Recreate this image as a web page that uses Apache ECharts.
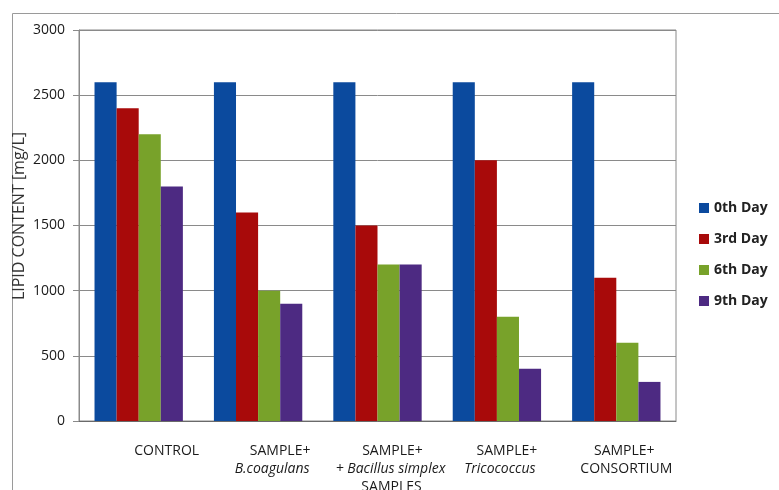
<!DOCTYPE html>
<html>
<head>
<meta charset="utf-8">
<script src="https://cdn.jsdelivr.net/npm/echarts@6/dist/echarts.min.js"></script>
<style>
  html, body { margin: 0; padding: 0; background: #fff; }
  #chart { width: 779px; height: 490px; }
</style>
</head>
<body>
<div id="chart"></div>
<script>
// Lipid content per treatment, measured on days 0, 3, 6 and 9 (mg/L)
const categories = ['CONTROL', 'SAMPLE+ B.coagulans', 'SAMPLE+ + Bacillus simplex SAMPLES', 'SAMPLE+ Tricococcus', 'SAMPLE+ CONSORTIUM'];
const categoryLines = [
  ['CONTROL'],
  ['SAMPLE+', 'B.coagulans'],
  ['SAMPLE+', '+ Bacillus simplex', 'SAMPLES'],
  ['SAMPLE+', 'Tricococcus'],
  ['SAMPLE+', 'CONSORTIUM']
];
const seriesNames = ['0th Day', '3rd Day', '6th Day', '9th Day'];
const day0 = [2600, 2600, 2600, 2600, 2600];
const day3 = [2400, 1600, 1500, 2000, 1100];
const day6 = [2200, 1000, 1200, 800, 600];
const day9 = [1800, 900, 1200, 400, 300];
const yTicks = [0, 500, 1000, 1500, 2000, 2500, 3000];
const yTitle = 'LIPID CONTENT [mg/L]';

// Label line styling: italic species names, and horizontal nudges of each line
const lineItalic = [
  [false],
  [false, true],
  [false, true, false],
  [false, true],
  [false, false]
];
const lineShift = [
  [28],
  [22, 14],
  [15, 13, 14],
  [10, 3],
  [8, 10]
];

const FONT = '"Open Sans", "Liberation Sans", sans-serif';
const colors = ['#0B4A9E', '#A80A0A', '#78A22A', '#4D2A82'];

const rich = {};
const labelText = categoryLines.map((lines, ci) =>
  lines.map((line, li) => {
    const key = 'c' + ci + 'l' + li;
    rich[key] = {
      fontFamily: FONT,
      fontSize: 14,
      color: '#1a1a1a',
      lineHeight: 18,
      fontStyle: lineItalic[ci][li] ? 'italic' : 'normal',
      padding: [0, 0, 0, 2 * lineShift[ci][li]]
    };
    return '{' + key + '|' + line + '}';
  }).join('\n')
);

const dataSets = [day0, day3, day6, day9];

const chart = echarts.init(document.getElementById('chart'), null, { renderer: 'canvas' });
chart.setOption({
  backgroundColor: '#ffffff',
  animation: false,
  color: colors,
  graphic: [{
    type: 'rect',
    left: 10, top: 11,
    shape: { width: 820, height: 520 },
    style: { fill: 'none', stroke: '#9a9a9a', lineWidth: 1 },
    silent: true
  }, {
    type: 'text',
    x: 19, y: 216,
    rotation: Math.PI / 2,
    style: {
      text: yTitle,
      fontFamily: FONT, fontSize: 16, fill: '#333',
      align: 'center', verticalAlign: 'middle'
    },
    silent: true
  }],
  grid: {
    left: 79, right: 103, top: 30, bottom: 69,
    containLabel: false,
    outerBoundsMode: 'none',
    show: true, borderColor: '#8a8a8a', borderWidth: 1, backgroundColor: 'transparent'
  },
  legend: {
    orient: 'vertical',
    left: 694, top: 196,
    itemWidth: 10, itemHeight: 10, itemGap: 17,
    icon: 'rect',
    data: seriesNames,
    textStyle: { fontFamily: FONT, fontSize: 14, fontWeight: 'bold', color: '#222' }
  },
  xAxis: {
    type: 'category',
    data: categories,
    axisLine: { show: true, lineStyle: { color: '#6a6a6a', width: 1 } },
    axisTick: { show: false },
    axisLabel: {
      interval: 0,
      margin: 21,
      formatter: (v, idx) => labelText[idx],
      rich: rich
    }
  },
  yAxis: {
    type: 'value',
    min: yTicks[0], max: yTicks[yTicks.length - 1], interval: 500,
    axisLine: { show: true, lineStyle: { color: '#8a8a8a' } },
    axisTick: { show: true, length: 6, lineStyle: { color: '#8a8a8a' } },
    splitLine: { show: true, lineStyle: { color: '#8a8a8a', width: 1 } },
    axisLabel: {
      fontFamily: FONT, fontSize: 14, color: '#1a1a1a', margin: 14,
      formatter: v => String(v)
    }
  },
  series: seriesNames.map((name, i) => ({
    name: name,
    type: 'bar',
    data: dataSets[i],
    barGap: '0%',
    barCategoryGap: '26%',
    itemStyle: { color: colors[i] }
  }))
});
</script>
</body>
</html>
